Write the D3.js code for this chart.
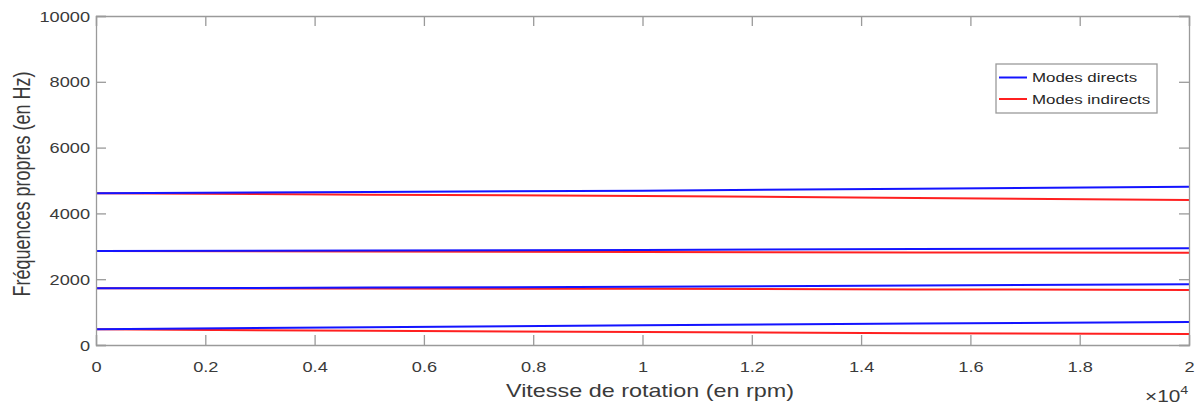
<!DOCTYPE html>
<html><head><meta charset="utf-8">
<script src="https://cdn.jsdelivr.net/npm/d3@7"></script>
<style>body{margin:0;background:#fff}svg text{font-family:"Liberation Sans",Arial,sans-serif}</style>
</head><body><svg id="c" width="1199" height="406"></svg>
<script>
// speeds in units of 1e4 rpm
const speeds = [0, 0.5, 1.0, 1.5, 2.0];
// Direct (forward) modes, Hz
const direct1 = [477, 540, 600, 650, 699];
const direct2 = [1723, 1745, 1772, 1810, 1845];
const direct3 = [2857, 2870, 2888, 2915, 2939];
const direct4 = [4611, 4650, 4690, 4750, 4812];
// Indirect (backward) modes, Hz
const indirect1 = [477, 430, 395, 360, 334];
const indirect2 = [1723, 1715, 1711, 1690, 1672];
const indirect3 = [2857, 2840, 2827, 2815, 2806];
const indirect4 = [4611, 4570, 4529, 4470, 4407];
const xTicks = [0, 0.2, 0.4, 0.6, 0.8, 1, 1.2, 1.4, 1.6, 1.8, 2];
const yTicks = [0, 2000, 4000, 6000, 8000, 10000];
const legendLabels = ["Modes directs", "Modes indirects"];

const SX = 1.3; // horizontal stretch of the reference rendering
const svg = d3.select("#c");
const L = 96, R = 1189, T = 16, B = 345;
const x = d3.scaleLinear().domain([0, 2]).range([L, R]);
const y = d3.scaleLinear().domain([0, 10000]).range([B, T]);
const axisCol = "#9a9a9a", textCol = "#3a3a3a";

const line = d3.line().x((d, i) => x(speeds[i])).y(d => y(d));
const g = svg.append("g");
[indirect1, indirect2, indirect3, indirect4].forEach(s =>
  g.append("path").attr("d", line(s)).attr("fill", "none").attr("stroke", "#ff2020").attr("stroke-width", 2));
[direct1, direct2, direct3, direct4].forEach(s =>
  g.append("path").attr("d", line(s)).attr("fill", "none").attr("stroke", "#1414ff").attr("stroke-width", 2));

const tl = 10;
const fmt = d => d3.format("")(+d.toFixed(1));
const xa = svg.append("g").attr("transform", `translate(0,${B})`)
  .call(d3.axisBottom(x).tickValues(xTicks).tickSize(-tl).tickFormat(fmt));
const xt = svg.append("g").attr("transform", `translate(0,${T})`)
  .call(d3.axisTop(x).tickValues(xTicks).tickSize(-tl).tickFormat(""));
const ya = svg.append("g").attr("transform", `translate(${L},0)`)
  .call(d3.axisLeft(y).tickValues(yTicks).tickSize(-tl).tickFormat(d3.format("")));
const yr = svg.append("g").attr("transform", `translate(${R},0)`)
  .call(d3.axisRight(y).tickValues(yTicks).tickSize(-tl).tickFormat(""));
[xa, xt, ya, yr].forEach(a => {
  a.selectAll("path.domain").attr("stroke", axisCol).attr("stroke-width", 1.3);
  a.selectAll(".tick line").attr("stroke", axisCol).attr("stroke-width", 1.3);
  a.selectAll("text").attr("fill", textCol).style("font-size", "14px");
});
xa.selectAll(".tick text").attr("y", 27).attr("dy", 0).attr("transform", `scale(${SX},1)`);
ya.selectAll(".tick text").attr("x", -6 / SX).attr("dy", "0.36em").attr("transform", `scale(${SX},1)`);

svg.append("text").attr("transform", `translate(650,397) scale(${SX},1)`).attr("text-anchor", "middle")
  .attr("fill", textCol).style("font-size", "18px").text("Vitesse de rotation (en rpm)");
svg.append("text").attr("transform", `translate(30,184) scale(${SX},1) rotate(-90)`).attr("text-anchor", "middle")
  .attr("fill", textCol).style("font-size", "18px").text("Fréquences propres (en Hz)");
const ex = svg.append("text").attr("transform", `translate(1145,402) scale(${SX},1)`)
  .attr("fill", textCol).style("font-size", "16px");
ex.append("tspan").text("×10");
ex.append("tspan").attr("dy", -8).style("font-size", "11px").text("4");

const lg = svg.append("g");
lg.append("rect").attr("x", 996).attr("y", 64).attr("width", 161).attr("height", 49)
  .attr("fill", "#fff").attr("stroke", axisCol).attr("stroke-width", 1.3);
const lc = ["#1414ff", "#ff2020"];
legendLabels.forEach((t, i) => {
  const yy = 77.5 + i * 21.5;
  lg.append("line").attr("x1", 999).attr("x2", 1027).attr("y1", yy).attr("y2", yy)
    .attr("stroke", lc[i]).attr("stroke-width", 2);
  lg.append("text").attr("transform", `translate(1032,${yy}) scale(${SX},1)`).attr("dy", "0.36em")
    .attr("fill", "#262626").style("font-size", "13px").text(t);
});
</script></body></html>
